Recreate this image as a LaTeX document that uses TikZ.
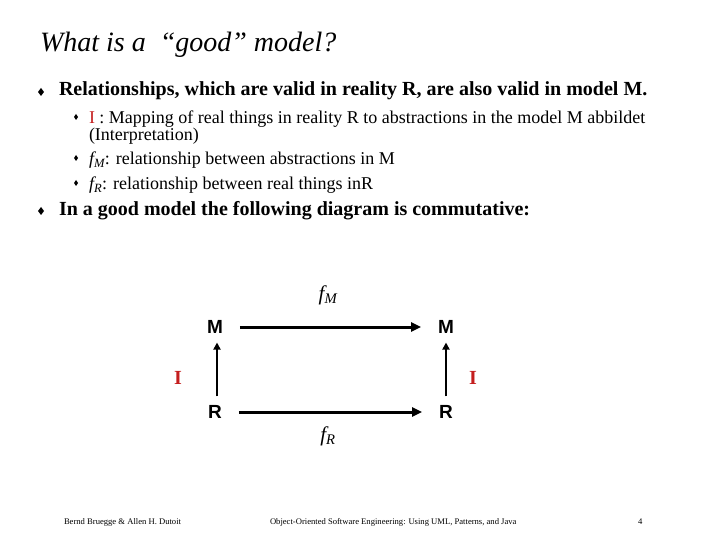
\documentclass[tikz,border=0pt]{standalone}
\usepackage{fontspec}
\setmainfont{Liberation Serif}
\setsansfont{Liberation Sans}
\usepackage[dvipsnames]{xcolor}
\usepackage{tikz}
\usetikzlibrary{positioning}
\usetikzlibrary{shapes.geometric}
\usetikzlibrary{arrows.meta}
\definecolor{mapred}{RGB}{196,30,30}

\begin{document}
\begin{tikzpicture}[
		x=1pt, y=-1pt,
		every node/.style = {
			inner sep=0pt,
			outer sep=0pt
		},
		title/.style = {anchor=base west, font=\fontsize{28}{32}\selectfont\itshape},
		mainline/.style = {anchor=base west, font=\fontsize{20}{24}\selectfont\bfseries},
		subline/.style = {anchor=base west, font=\fontsize{18}{20}\selectfont},
		bigdot/.style = {diamond, fill=black, minimum width=6pt, minimum height=8pt},
		smalldot/.style = {diamond, fill=black, minimum width=4pt, minimum height=6pt},
		obj/.style = {
			font=\sffamily\bfseries\fontsize{19}{22}\selectfont,
			inner xsep=17pt,
			inner ysep=9pt
		},
		label/.style = {font=\fontsize{21}{24}\selectfont},
		map/.style = {font=\bfseries\fontsize{20}{24}\selectfont, text=mapred},
		relarrow/.style = {draw, line width=3pt, -{Triangle[length=10pt,width=9pt]}},
		maparrow/.style = {draw, line width=2pt, -{Triangle[length=7pt,width=7pt]}},
		foot/.style = {anchor=base west, font=\fontsize{8.6}{10}\selectfont}
		]
		\useasboundingbox (0,0) rectangle (720,540);
		% heading and bullets
		\node[title] (head) at (40,52) {What is a \ “good” model?};
		\node[bigdot] (dot1) at (41,92) {};
		\node[mainline] (item1) at (59,96) {Relationships, which are valid in reality R, are also valid in model M.};
		\node[smalldot] (dot11) at (76,117) {};
		\node[subline] (item11) at (89,124) {\textcolor{mapred}{I} : Mapping of real things in reality R to abstractions in the model M abbildet};
		\node[subline] (item11b) at (89,141) {(Interpretation)};
		\node[smalldot] (dot12) at (76,158) {};
		\node[subline] (item12) at (89,165) {\textit{f\textsubscript{M}}: relationship between abstractions in M};
		\node[smalldot] (dot13) at (76,183) {};
		\node[subline] (item13) at (89,190) {\textit{f\textsubscript{R}}: relationship between real things inR};
		\node[bigdot] (dot2) at (41,211) {};
		\node[mainline] (item2) at (59,215) {In a good model the following diagram is commutative:};
		% commutative square
		\node[obj] (mleft) at (215,327) {M};
		\node[obj] (mright) at (446,327) {M};
		\node[obj] (rleft) at (215,412) {R};
		\node[obj] (rright) at (446,412) {R};
		\draw[relarrow] (mleft) -- (mright);
		\draw[relarrow] (rleft) -- (rright);
		\draw[maparrow] ([xshift=2pt]rleft.north) -- ([xshift=2pt]mleft.south);
		\draw[maparrow] (rright.north) -- (mright.south);
		\node[label] (fm) at (328,295) {\textit{f\textsubscript{M}}};
		\node[label] (fr) at (328,436) {\textit{f\textsubscript{R}}};
		\node[map] (ileft) at (178,378) {I};
		\node[map] (iright) at (473,378) {I};
		% footer
		\node[foot] (authors) at (64,524) {Bernd Bruegge \& Allen H. Dutoit};
		\node[foot] (book) at (270,524) {Object-Oriented Software Engineering: Using UML, Patterns, and Java};
		\node[foot] (page) at (638,524) {4};
	\end{tikzpicture}
\end{document}
